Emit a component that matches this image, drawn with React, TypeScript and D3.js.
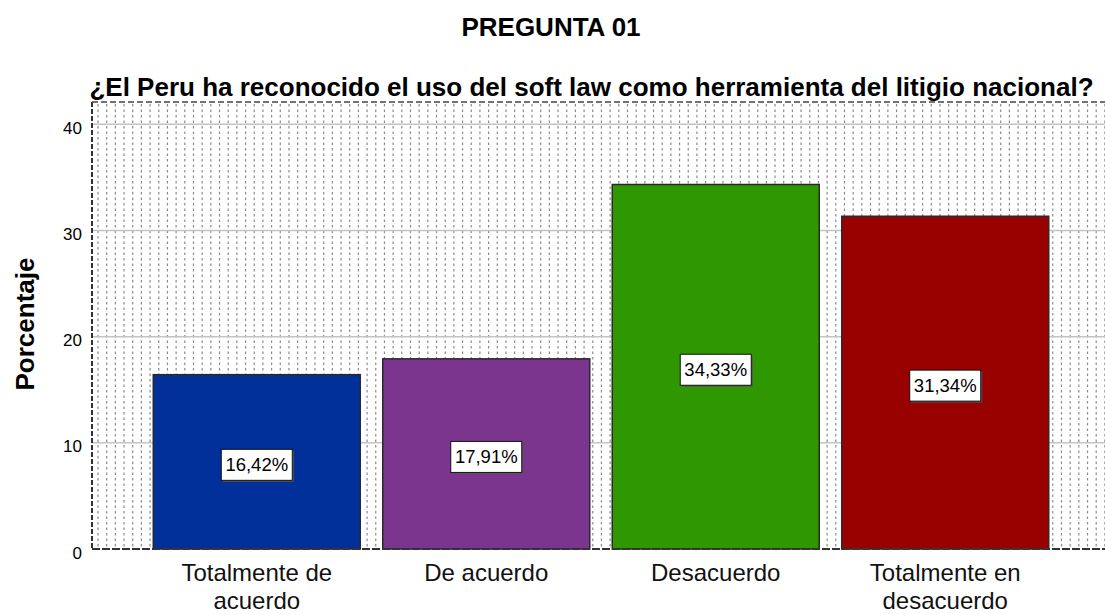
import React from "react";
import * as d3 from "d3";

const categories = [["Totalmente de", "acuerdo"], ["De acuerdo"], ["Desacuerdo"], ["Totalmente en", "desacuerdo"]];
const values = [16.42, 17.91, 34.33, 31.34];
const labels = ["16,42%", "17,91%", "34,33%", "31,34%"];
const colors = ["#01309a", "#7b358f", "#2f9800", "#990000"];
const yTicks = [0, 10, 20, 30, 40];

const W = 1105, H = 614;
const L = 92, R = 1110, T = 102, B = 549;

export default function App() {
  const x = d3.scaleBand<number>().domain(d3.range(values.length)).range([L, R]).paddingInner(0.098).paddingOuter(0.267);
  const y = d3.scaleLinear().domain([0, 42.1]).range([B, T]);
  const vlines: number[] = [];
  for (let xx = L + 6; xx < W; xx += 8.68) vlines.push(xx);
  const font = "Arial, 'Liberation Sans', sans-serif";
  return (
    <svg width={W} height={H} style={{ position: "absolute", left: 0, top: 0, background: "#fff" }} fontFamily={font}>
      <rect x={0} y={0} width={W} height={H} fill="#fff" />
      <text x={551} y={36} textAnchor="middle" fontWeight="bold" fontSize={26}>PREGUNTA 01</text>
      <text x={591.5} y={96} textAnchor="middle" fontWeight="bold" fontSize={26}>¿El Peru ha reconocido el uso del soft law como herramienta del litigio nacional?</text>
      {vlines.map((v, i) => (
        <line key={i} x1={v} x2={v} y1={T + 2} y2={B} stroke="#8a8a8a" strokeWidth={1.2} strokeDasharray="2.5,3" />
      ))}
      {yTicks.filter(t => t > 0).map(t => (
        <line key={t} x1={L} x2={W} y1={y(t)} y2={y(t)} stroke="#c4c4c4" strokeWidth={1.5} />
      ))}
      {values.map((v, i) => (
        <rect key={i} x={x(i)} y={y(v)} width={x.bandwidth()} height={B - y(v)} fill={colors[i]} stroke="#2a2a2a" strokeWidth={1.5} />
      ))}
      <line x1={L} x2={L} y1={T} y2={B} stroke="#333" strokeWidth={2} strokeDasharray="5,2" />
      <line x1={L} x2={W} y1={T} y2={T} stroke="#444" strokeWidth={1.5} strokeDasharray="6,3" />
      <line x1={L} x2={W} y1={B} y2={B} stroke="#333" strokeWidth={2} strokeDasharray="8,2" />
      {yTicks.map(t => (
        <text key={t} x={82} y={y(t) + 9.5} textAnchor="end" fontSize={17}>{t}</text>
      ))}
      <text transform={`translate(34,${324}) rotate(-90)`} textAnchor="middle" fontWeight="bold" fontSize={26}>Porcentaje</text>
      {values.map((v, i) => {
        const cx = (x(i) as number) + x.bandwidth() / 2;
        const cy = (y(v) + B) / 2 + 3;
        const bw = 71, bh = 31;
        return (
          <g key={i}>
            <rect x={cx - bw / 2 + 1.5} y={cy - bh / 2 + 1.5} width={bw} height={bh} fill="#555" />
            <rect x={cx - bw / 2} y={cy - bh / 2} width={bw} height={bh} fill="#fff" stroke="#111" strokeWidth={1} />
            <text x={cx} y={cy + 6.5} textAnchor="middle" fontSize={18.5}>{labels[i]}</text>
          </g>
        );
      })}
      {categories.map((c, i) => {
        const cx = (x(i) as number) + x.bandwidth() / 2;
        return (
          <text key={i} textAnchor="middle" fontSize={24} fill="#111">
            {c.map((line, j) => (
              <tspan key={j} x={cx} y={581 + j * 28}>{line}</tspan>
            ))}
          </text>
        );
      })}
    </svg>
  );
}
